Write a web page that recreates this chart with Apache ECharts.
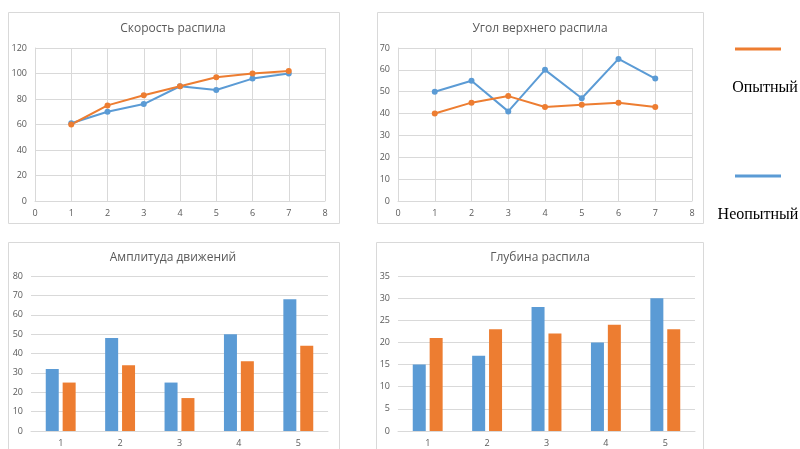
<!DOCTYPE html>
<html>
<head>
<meta charset="utf-8">
<script src="https://cdn.jsdelivr.net/npm/echarts@6/dist/echarts.min.js"></script>
<style>
  html, body { margin: 0; padding: 0; background: #fff; }
  #main { width: 800px; height: 449px; }
</style>
</head>
<body>
<div id="main"></div>
<script>
// названия серий
var seriesNames = ['Опытный', 'Неопытный'];
var titles = ['Скорость распила', 'Угол верхнего распила', 'Амплитуда движений', 'Глубина распила'];

// линейные графики, x = 1..7
var lineX = [1, 2, 3, 4, 5, 6, 7];
var speedExp = [60, 75, 83, 90, 97, 100, 102];
var speedNov = [61, 70, 76, 90, 87, 96, 100];
var angleExp = [40, 45, 48, 43, 44, 45, 43];
var angleNov = [50, 55, 41, 60, 47, 65, 56];

// столбцы, категории 1..5
var barCats = ['1', '2', '3', '4', '5'];
var amplNov = [32, 48, 25, 50, 68];
var amplExp = [25, 34, 17, 36, 44];
var depthNov = [15, 17, 28, 20, 30];
var depthExp = [21, 23, 22, 24, 23];

var BLUE = '#5B9BD5', ORANGE = '#ED7D31';
var GRID_C = '#D9D9D9', TXT = '#595959';
var FONT = '"Open Sans", "Noto Sans", sans-serif';

function pairs(xs, ys) {
    return xs.map(function (x, i) { return [x, ys[i]]; });
}

var axisLbl = { color: TXT, fontSize: 9, fontFamily: FONT };

function valX(idx) {
    return {
        type: 'value', gridIndex: idx, min: 0, max: 8, interval: 1,
        axisLine: { show: true, lineStyle: { color: GRID_C } },
        axisTick: { show: false },
        axisLabel: axisLbl,
        splitLine: { show: true, lineStyle: { color: GRID_C } }
    };
}
function valY(idx, max, step) {
    return {
        type: 'value', gridIndex: idx, min: 0, max: max, interval: step,
        axisLine: { show: true, lineStyle: { color: GRID_C } },
        axisTick: { show: false },
        axisLabel: axisLbl,
        splitLine: { show: true, lineStyle: { color: GRID_C } }
    };
}
function catX(idx) {
    return {
        type: 'category', gridIndex: idx, data: barCats,
        axisLine: { show: true, lineStyle: { color: GRID_C } },
        axisTick: { show: false },
        axisLabel: axisLbl,
        splitLine: { show: false }
    };
}
function barY(idx, max, step) {
    var y = valY(idx, max, step);
    y.axisLine = { show: false };
    return y;
}

function lineSeries(name, idx, ys, color) {
    return {
        name: name, type: 'line', xAxisIndex: idx, yAxisIndex: idx,
        data: pairs(lineX, ys),
        symbol: 'circle', symbolSize: 6,
        lineStyle: { color: color, width: 2 },
        itemStyle: { color: color }
    };
}
function barSeries(name, idx, ys, color) {
    return {
        name: name, type: 'bar', xAxisIndex: idx, yAxisIndex: idx,
        data: ys, barWidth: 13, barGap: '30%',
        itemStyle: { color: color }
    };
}

// рамки панелей
var panels = [[8, 12, 331, 211], [377, 12, 326, 211], [8, 242, 331, 215], [376, 242, 327, 215]];
var graphic = panels.map(function (p) {
    return { type: 'rect', shape: { x: p[0] + 0.5, y: p[1] + 0.5, width: p[2], height: p[3] },
             style: { fill: 'none', stroke: GRID_C, lineWidth: 1 }, z: -1 };
});
// легенда справа
var legendPos = [[758, 49, 88, ORANGE, 765], [758, 176, 215, BLUE, 758]];
legendPos.forEach(function (l, i) {
    graphic.push({ type: 'line', shape: { x1: l[0] - 23, y1: l[1], x2: l[0] + 23, y2: l[1] },
                   style: { stroke: l[3], lineWidth: 3 } });
    graphic.push({ type: 'text', x: l[4], y: l[2],
                   style: { text: seriesNames[i], fill: '#000', font: '16px "Liberation Serif", serif',
                            textAlign: 'center', textVerticalAlign: 'middle' } });
});

var titleCenters = [[173, 29], [540, 29], [173, 258], [540, 258]];

var myChart = echarts.init(document.getElementById('main'));
var option = {
    animation: false,
    title: titles.map(function (t, i) {
        return { text: t, left: titleCenters[i][0], top: titleCenters[i][1] - 6, textAlign: 'center',
                 padding: 0,
                 textStyle: { color: TXT, fontSize: 12, fontWeight: 'normal', fontFamily: FONT } };
    }),
    grid: [
        { left: 35, top: 48, width: 290, height: 153 },
        { left: 398, top: 48, width: 294, height: 153 },
        { left: 31, top: 276, width: 297, height: 155 },
        { left: 398, top: 276, width: 297, height: 155 }
    ],
    xAxis: [valX(0), valX(1), catX(2), catX(3)],
    yAxis: [valY(0, 120, 20), valY(1, 70, 10), barY(2, 80, 10), barY(3, 35, 5)],
    series: [
        lineSeries(seriesNames[1], 0, speedNov, BLUE),
        lineSeries(seriesNames[0], 0, speedExp, ORANGE),
        lineSeries(seriesNames[1], 1, angleNov, BLUE),
        lineSeries(seriesNames[0], 1, angleExp, ORANGE),
        barSeries(seriesNames[1], 2, amplNov, BLUE),
        barSeries(seriesNames[0], 2, amplExp, ORANGE),
        barSeries(seriesNames[1], 3, depthNov, BLUE),
        barSeries(seriesNames[0], 3, depthExp, ORANGE)
    ],
    graphic: graphic
};
myChart.setOption(option);
</script>
</body>
</html>
